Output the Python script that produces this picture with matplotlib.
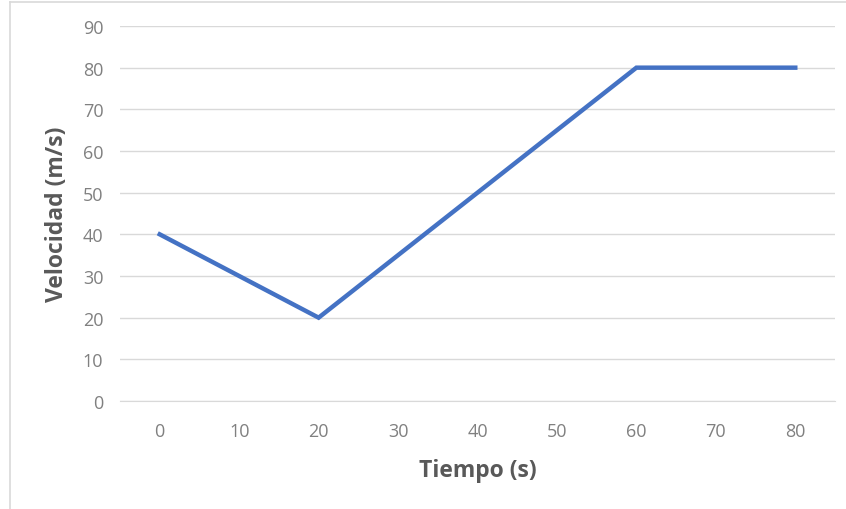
import matplotlib
matplotlib.use("Agg")
import matplotlib.pyplot as plt

categories = ["0", "10", "20", "30", "40", "50", "60", "70", "80"]
velocity = [40, 30, 20, 35, 50, 65, 80, 80, 80]
yticks = [0, 10, 20, 30, 40, 50, 60, 70, 80, 90]

plt.rcParams['font.family'] = ['Open Sans', 'DejaVu Sans']

W, H = 846, 510
fig = plt.figure(figsize=(W/100, H/100), dpi=100)
fig.patch.set_facecolor('white')

# chart border (left and top light gray)
fig.add_artist(plt.Line2D([10/W, 10/W], [0, 1 - 3/H], color='#d9d9d9', lw=1.2, transform=fig.transFigure))
fig.add_artist(plt.Line2D([10/W, 1], [1 - 3/H, 1 - 3/H], color='#d9d9d9', lw=1.2, transform=fig.transFigure))

left, right = 120, 835
top, bottom = 27, 402
ax = fig.add_axes([left/W, 1 - bottom/H, (right-left)/W, (bottom-top)/H])

x = list(range(len(categories)))
ax.plot(x, velocity, color='#4472C4', lw=3.2, solid_joinstyle='miter', zorder=3)

ax.set_xlim(-0.5, len(categories) - 0.5)
ax.set_ylim(0, 90)
ax.set_yticks(yticks)
ax.set_xticks(x)
ax.set_xticklabels(categories)
ax.grid(axis='y', color='#d9d9d9', lw=1)
ax.set_axisbelow(True)
for s in ['top', 'right', 'left']:
    ax.spines[s].set_visible(False)
ax.spines['bottom'].set_color('#d9d9d9')
ax.tick_params(axis='both', length=0, colors='#808080', labelsize=13)
ax.tick_params(axis='y', pad=12)
ax.tick_params(axis='x', pad=15)

ax.set_xlabel('Tiempo (s)', fontsize=16.5, fontweight='bold', color='#595959', labelpad=13)
ax.set_ylabel('Velocidad (m/s)', fontsize=16.5, fontweight='bold', color='#595959', labelpad=10)

fig.savefig('out.png', dpi=100, facecolor='white')
